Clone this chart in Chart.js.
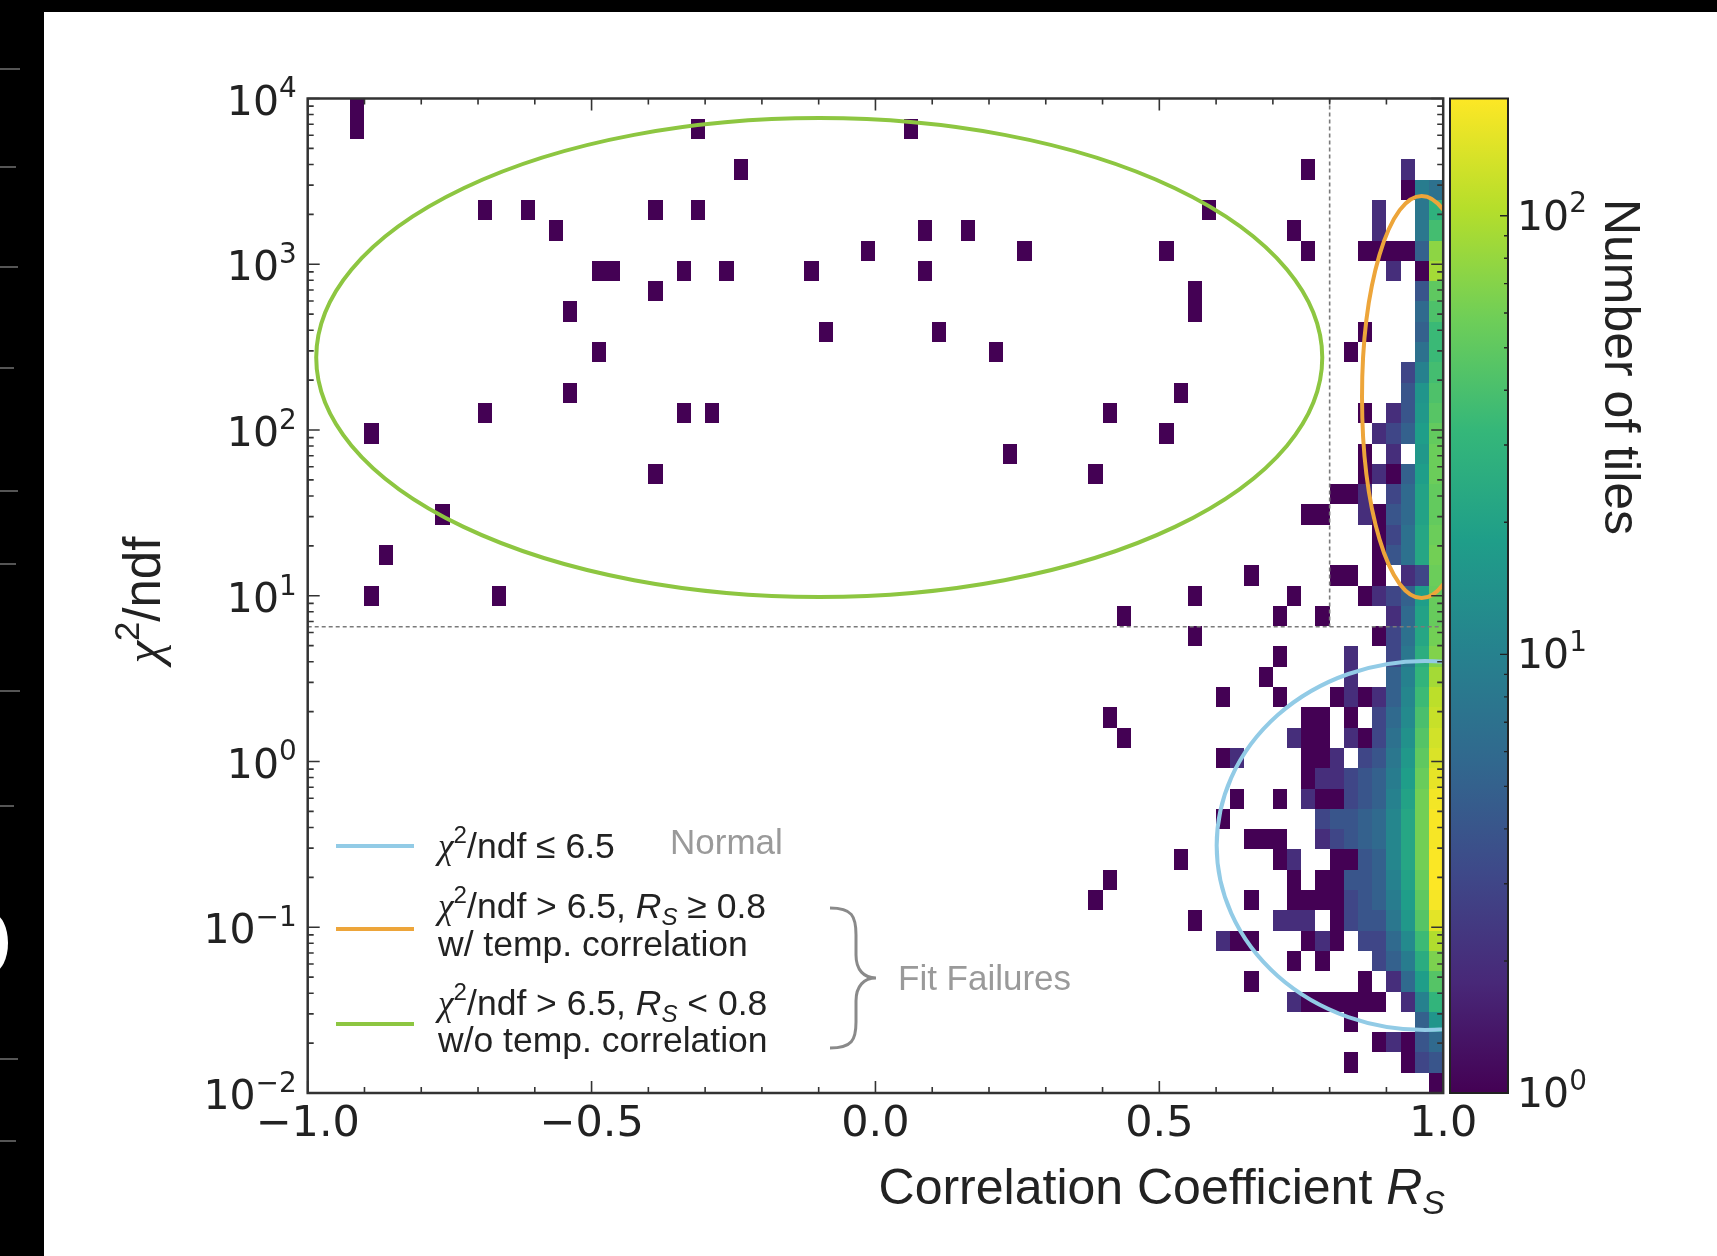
<!DOCTYPE html>
<html>
<head>
<meta charset="utf-8">
<script src="https://cdn.jsdelivr.net/npm/chart.js@4.4.0/dist/chart.umd.min.js"></script>
<style>
  html, body { margin: 0; padding: 0; background: #fff; }
  #wrap { position: relative; width: 1717px; height: 1256px; overflow: hidden; background: #fff; }
  #wrap canvas { position: absolute; left: 0; top: 0; }
  .strip { position: absolute; background: #000; }
  .dash { position: absolute; left: 0; height: 2px; background: #555; }
</style>
</head>
<body>
<div id="wrap">
  <canvas id="hist" width="1717" height="1256"></canvas>
  <div class="strip" style="left:0;top:0;width:44px;height:1256px"></div>
  <div class="strip" style="left:0;top:0;width:1717px;height:12px"></div>
  <div class="dash" style="top:68px;width:20px"></div>
  <div class="dash" style="top:166px;width:16px"></div>
  <div class="dash" style="top:266px;width:18px"></div>
  <div class="dash" style="top:367px;width:14px"></div>
  <div class="dash" style="top:490px;width:18px"></div>
  <div class="dash" style="top:563px;width:16px"></div>
  <div class="dash" style="top:690px;width:20px"></div>
  <div class="dash" style="top:805px;width:14px"></div>
  <div class="dash" style="top:1058px;width:18px"></div>
  <div class="dash" style="top:1140px;width:16px"></div>
  <div style="position:absolute;left:-22px;top:914px;width:30px;height:58px;border-radius:50%;background:#fff"></div>
</div>
<script>
// binning of the 2D histogram
const xMin = -1, xMax = 1, xBins = 80;
const yLogMin = -2, yLogMax = 4, yBins = 49;
const countMax = 185;

const xTickValues = [-1.0, -0.5, 0.0, 0.5, 1.0];
const xTickLabels = ['\u22121.0', '\u22120.5', '0.0', '0.5', '1.0'];
const yTickExponents = [-2, -1, 0, 1, 2, 3, 4];
const cbarTickExponents = [0, 1, 2];

const chi2Cut = 6.5;
const rsCut = 0.8;

// isolated tiles: [x bin (0 = -1.0), row counted from the top (0 = 1e4), count]
const sparseTiles = [
  [3,0,1],[3,1,1],[27,1,1],[42,1,1],[30,3,1],[70,3,1],
  [12,5,1],[15,5,1],[24,5,1],[27,5,1],[63,5,1],
  [17,6,1],[43,6,1],[46,6,1],[69,6,1],
  [39,7,1],[50,7,1],[60,7,1],[70,7,1],
  [20,8,1],[21,8,1],[26,8,1],[29,8,1],[35,8,1],[43,8,1],
  [24,9,1],[62,9,1],[18,10,1],[62,10,1],
  [36,11,1],[44,11,1],[20,12,1],[48,12,1],
  [18,14,1],[61,14,1],
  [12,15,1],[26,15,1],[28,15,1],[56,15,1],
  [4,16,1],[60,16,1],[49,17,1],[24,18,1],[55,18,1],
  [9,20,1],[70,20,1],[71,20,1],[5,22,1],[66,23,1],
  [4,24,1],[13,24,1],[62,24,1],[69,24,1],
  [57,25,1],[68,25,1],[71,25,1],[62,26,1],[68,27,1],[67,28,1],
  [64,29,1],[68,29,1],[56,30,1],[70,30,1],[71,30,1],
  [57,31,1],[69,31,2],[70,31,1],[71,31,1],
  [64,32,1],[65,32,2],[70,32,1],[71,32,1],
  [70,33,1],[71,33,2],
  [65,34,1],[68,34,1],[70,34,2],[71,34,1],
  [64,35,1],[71,35,3],
  [66,36,1],[67,36,1],[68,36,1],[71,36,2],
  [61,37,1],[68,37,1],[69,37,2],
  [56,38,1],[69,38,1],[71,38,1],
  [55,39,1],[66,39,1],[69,39,1],[70,39,1],[71,39,1],
  [62,40,1],[68,40,2],[69,40,2],[70,40,2],
  [64,41,2],[65,41,1],[66,41,1],[70,41,1],[71,41,2],
  [69,42,1],[71,42,1],[66,43,1],
  [69,44,2],[70,44,1],[71,44,1]
];

// dense band, x bins 72..79 (Rs 0.80 .. 1.00), rows from the top (1e4) down to 1e-2
const denseFirstBin = 72;
const denseRows = [
  [0,0,0,0,0,0,0,0],
  [0,0,0,0,0,0,0,0],
  [0,0,0,0,0,0,0,0],
  [0,0,0,0,0,2,0,0],
  [0,0,0,0,0,1,9,7],
  [0,0,0,2,0,0,8,28],
  [0,0,0,2,0,0,8,38],
  [0,0,1,1,1,1,5,75],
  [0,0,0,0,2,0,1,90],
  [0,0,0,0,0,0,4,50],
  [0,0,0,0,0,0,6,42],
  [0,0,1,0,0,0,5,34],
  [0,1,0,0,0,0,7,34],
  [0,0,0,0,0,3,10,38],
  [0,0,0,0,0,4,15,42],
  [0,0,1,0,2,4,16,46],
  [0,0,0,2,3,5,18,52],
  [0,0,1,0,2,0,16,56],
  [0,0,1,2,1,5,18,56],
  [1,1,2,0,3,6,20,52],
  [0,0,2,1,4,6,20,52],
  [0,0,0,1,3,7,22,56],
  [0,0,0,1,4,7,22,60],
  [1,1,0,1,0,2,3,56],
  [0,0,1,2,3,5,18,54],
  [0,0,0,0,2,6,20,54],
  [0,0,0,1,3,7,22,60],
  [0,2,0,0,3,8,26,68],
  [0,2,0,0,5,10,30,90],
  [1,2,1,2,5,11,35,110],
  [0,1,0,3,6,12,40,120],
  [0,2,1,3,7,14,45,130],
  [2,0,3,4,8,16,50,140],
  [2,3,4,5,9,18,55,155],
  [1,3,4,5,10,20,60,170],
  [4,4,5,6,11,22,60,178],
  [3,4,5,6,11,22,60,175],
  [1,1,4,5,11,22,60,180],
  [1,4,4,5,10,20,55,185],
  [1,3,4,5,9,18,50,175],
  [1,3,4,4,8,16,45,150],
  [1,0,3,3,6,12,35,100],
  [0,0,0,3,5,9,25,65],
  [0,0,1,0,2,6,18,45],
  [1,1,1,1,0,2,10,30],
  [0,1,0,0,0,0,5,15],
  [0,0,0,1,2,1,4,6],
  [0,1,0,0,0,1,3,4],
  [0,0,0,0,0,0,0,1]
];

// hand-drawn selections, centre/radii in (Rs, log10 chi2/ndf)
const ellipses = [
  { color: '#8dc641', cx: -0.099, cy: 2.437, rx: 0.886, ry: 1.445 },
  { color: '#eda53a', cx: 0.962, cy: 2.199, rx: 0.105, ry: 1.213 },
  { color: '#92cbe6', cx: 0.968, cy: -0.507, rx: 0.367, ry: 1.113 }
];

const viridis = ['#440154','#482878','#3e4989','#31688e','#26828e','#1f9e89','#35b779','#6ece58','#b5de2b','#fde725'];

function hexRgb(h) {
  return [parseInt(h.slice(1, 3), 16), parseInt(h.slice(3, 5), 16), parseInt(h.slice(5, 7), 16)];
}
function cmap(t) {
  t = Math.max(0, Math.min(1, t));
  const p = t * (viridis.length - 1);
  const i = Math.min(Math.floor(p), viridis.length - 2);
  const f = p - i;
  const a = hexRgb(viridis[i]), b = hexRgb(viridis[i + 1]);
  const c = a.map((v, j) => Math.round(v + (b[j] - v) * f));
  return `rgb(${c[0]},${c[1]},${c[2]})`;
}

const xStep = (xMax - xMin) / xBins;
const yStep = (yLogMax - yLogMin) / yBins;

function makeTile(i, k, n) {
  const r = yBins - 1 - k;
  const x0 = xMin + i * xStep, x1 = x0 + xStep;
  const l0 = yLogMin + r * yStep, l1 = l0 + yStep;
  return { x: (x0 + x1) / 2, y: Math.pow(10, (l0 + l1) / 2), v: n, x0, x1, y0: Math.pow(10, l0), y1: Math.pow(10, l1) };
}

const tiles = [];
sparseTiles.forEach(([i, k, n]) => tiles.push(makeTile(i, k, n)));
denseRows.forEach((row, k) => row.forEach((n, j) => {
  if (n > 0) tiles.push(makeTile(denseFirstBin + j, k, n));
}));

// text with super/subscripts: parts = [text, kind]
function rich(ctx, parts, x, y, size, align, fam) {
  const fontOf = k => {
    const s = /sup|sub/.test(k) ? size * 0.68 : size;
    const it = (k === 'i' || k === 'isub' || k === 'chi') ? 'italic ' : '';
    const f = k === 'chi' ? '"Liberation Serif"' : fam;
    return it + s + 'px ' + f;
  };
  let w = 0;
  parts.forEach(p => { ctx.font = fontOf(p[1]); w += ctx.measureText(p[0]).width; });
  let cx = align === 'center' ? x - w / 2 : align === 'right' ? x - w : x;
  ctx.textAlign = 'left';
  ctx.textBaseline = 'alphabetic';
  parts.forEach(p => {
    ctx.font = fontOf(p[1]);
    let dy = 0;
    if (p[1] === 'sup') dy = -size * 0.42;
    if (p[1] === 'sub' || p[1] === 'isub') dy = size * 0.2;
    ctx.fillText(p[0], cx, y + dy);
    cx += ctx.measureText(p[0]).width;
  });
}

function expText(e) { return e < 0 ? '\u2212' + (-e) : String(e); }

const SANS = '"Liberation Sans"';
const TICKF = '"DejaVu Sans"';

const heatPlugin = {
  id: 'heat',
  beforeDatasetsDraw(chart) {
    const { ctx, chartArea: a, scales: { x, y } } = chart;
    const lmax = Math.log10(countMax);
    ctx.save();
    ctx.beginPath();
    ctx.rect(a.left, a.top, a.right - a.left, a.bottom - a.top);
    ctx.clip();
    chart.data.datasets[0].data.forEach(p => {
      const l = Math.round(x.getPixelForValue(p.x0));
      const r = Math.round(x.getPixelForValue(p.x1));
      const t = Math.round(y.getPixelForValue(p.y1));
      const b = Math.round(y.getPixelForValue(p.y0));
      ctx.fillStyle = cmap(Math.log10(p.v) / lmax);
      ctx.fillRect(l, t, r - l, b - t);
    });
    ctx.restore();
  },
  afterDatasetsDraw(chart) {
    const { ctx, chartArea: a, scales: { x, y, cb } } = chart;
    ctx.save();

    // cut lines
    const yc = y.getPixelForValue(chi2Cut);
    const xc = x.getPixelForValue(rsCut);
    ctx.strokeStyle = '#7a7a7a';
    ctx.lineWidth = 1.6;
    ctx.setLineDash([4, 3]);
    ctx.beginPath();
    ctx.moveTo(a.left, yc); ctx.lineTo(a.right, yc);
    ctx.moveTo(xc, a.top); ctx.lineTo(xc, yc);
    ctx.stroke();
    ctx.setLineDash([]);

    // selection ellipses
    ctx.save();
    ctx.beginPath();
    ctx.rect(a.left, a.top, a.right - a.left, a.bottom - a.top);
    ctx.clip();
    ctx.lineWidth = 4;
    ellipses.forEach(e => {
      const px = x.getPixelForValue(e.cx);
      const py = y.getPixelForValue(Math.pow(10, e.cy));
      const rx = x.getPixelForValue(e.cx + e.rx) - px;
      const ry = py - y.getPixelForValue(Math.pow(10, e.cy + e.ry));
      ctx.strokeStyle = e.color;
      ctx.beginPath();
      ctx.ellipse(px, py, rx, ry, 0, 0, Math.PI * 2);
      ctx.stroke();
    });
    ctx.restore();

    // frame + inward ticks
    ctx.strokeStyle = '#333';
    ctx.lineWidth = 2.5;
    ctx.strokeRect(a.left, a.top, a.right - a.left, a.bottom - a.top);
    ctx.lineWidth = 1.6;
    ctx.beginPath();
    for (let v = -10; v <= 10; v++) {
      const px = x.getPixelForValue(v / 10);
      const len = v % 5 === 0 ? 12 : 6;
      ctx.moveTo(px, a.bottom); ctx.lineTo(px, a.bottom - len);
      ctx.moveTo(px, a.top); ctx.lineTo(px, a.top + len);
    }
    for (let e = yLogMin; e <= yLogMax; e++) {
      for (let m = 1; m <= 9; m++) {
        if (e === yLogMax && m > 1) break;
        const py = y.getPixelForValue(m * Math.pow(10, e));
        const len = m === 1 ? 12 : 6;
        ctx.moveTo(a.left, py); ctx.lineTo(a.left + len, py);
        ctx.moveTo(a.right, py); ctx.lineTo(a.right - len, py);
      }
    }
    ctx.stroke();

    // tick labels
    ctx.fillStyle = '#222';
    yTickExponents.forEach(e => {
      const py = y.getPixelForValue(Math.pow(10, e));
      rich(ctx, [['10', ''], [expText(e), 'sup']], a.left - 11, py + 16, 41, 'right', TICKF);
    });
    xTickValues.forEach((v, i) => {
      const px = x.getPixelForValue(v);
      ctx.font = '43px ' + TICKF;
      ctx.textAlign = 'center';
      ctx.textBaseline = 'alphabetic';
      ctx.fillText(xTickLabels[i], px, 1136);
    });

    // colour bar
    const cbL = 1450, cbR = 1508;
    const cTop = cb.getPixelForValue(countMax), cBot = cb.getPixelForValue(1);
    const g = ctx.createLinearGradient(0, cBot, 0, cTop);
    viridis.forEach((c, i) => g.addColorStop(i / (viridis.length - 1), c));
    ctx.fillStyle = g;
    ctx.fillRect(cbL, cTop, cbR - cbL, cBot - cTop);
    ctx.strokeStyle = '#222';
    ctx.lineWidth = 2;
    ctx.strokeRect(cbL, cTop, cbR - cbL, cBot - cTop);
    ctx.lineWidth = 1.4;
    ctx.beginPath();
    for (let e = 0; e <= 2; e++) {
      for (let m = 1; m <= 9; m++) {
        const v = m * Math.pow(10, e);
        if (v > countMax) break;
        const py = cb.getPixelForValue(v);
        const len = m === 1 ? 8 : 4;
        ctx.moveTo(cbR, py); ctx.lineTo(cbR - len, py);
      }
    }
    ctx.stroke();
    ctx.fillStyle = '#222';
    cbarTickExponents.forEach(e => {
      const py = cb.getPixelForValue(Math.pow(10, e));
      rich(ctx, [['10', ''], [expText(e), 'sup']], 1517, py + 14, 41, 'left', TICKF);
    });

    // axis titles
    rich(ctx, [['Correlation Coefficient ', ''], ['R', 'i'], ['S', 'isub']], 1445, 1204, 50, 'right', SANS);
    ctx.save();
    ctx.translate(160, 600);
    ctx.rotate(-Math.PI / 2);
    rich(ctx, [['\u03c7', 'chi'], ['2', 'sup'], ['/ndf', '']], 0, 0, 51, 'center', SANS);
    ctx.restore();
    ctx.save();
    ctx.translate(1605, 367);
    ctx.rotate(Math.PI / 2);
    rich(ctx, [['Number of tiles', '']], 0, 0, 50, 'center', SANS);
    ctx.restore();

    // legend
    const lx0 = 336, lx1 = 414;
    ctx.lineWidth = 4;
    [[ellipses[2].color, 846], [ellipses[1].color, 929], [ellipses[0].color, 1024]].forEach(([c, ly]) => {
      ctx.strokeStyle = c;
      ctx.beginPath(); ctx.moveTo(lx0, ly); ctx.lineTo(lx1, ly); ctx.stroke();
    });
    ctx.fillStyle = '#222';
    const tx = 438, fs = 35.5;
    rich(ctx, [['\u03c7', 'chi'], ['2', 'sup'], ['/ndf \u2264 6.5', '']], tx, 858, fs, 'left', SANS);
    rich(ctx, [['\u03c7', 'chi'], ['2', 'sup'], ['/ndf > 6.5, ', ''], ['R', 'i'], ['S', 'isub'], [' \u2265 0.8', '']], tx, 918, fs, 'left', SANS);
    rich(ctx, [['w/ temp. correlation', '']], tx, 956, fs, 'left', SANS);
    rich(ctx, [['\u03c7', 'chi'], ['2', 'sup'], ['/ndf > 6.5, ', ''], ['R', 'i'], ['S', 'isub'], [' < 0.8', '']], tx, 1015, fs, 'left', SANS);
    rich(ctx, [['w/o temp. correlation', '']], tx, 1052, fs, 'left', SANS);
    ctx.fillStyle = '#9a9a9a';
    rich(ctx, [['Normal', '']], 670, 854, 35, 'left', SANS);
    rich(ctx, [['Fit Failures', '']], 898, 990, 35, 'left', SANS);

    // brace
    ctx.strokeStyle = '#8a8a8a';
    ctx.lineWidth = 3;
    ctx.beginPath();
    ctx.moveTo(830, 908);
    ctx.bezierCurveTo(852, 908, 856, 916, 856, 935);
    ctx.lineTo(856, 955);
    ctx.bezierCurveTo(856, 970, 864, 978, 876, 978);
    ctx.bezierCurveTo(864, 978, 856, 986, 856, 1001);
    ctx.lineTo(856, 1022);
    ctx.bezierCurveTo(856, 1040, 852, 1048, 830, 1048);
    ctx.stroke();

    ctx.restore();
  }
};

new Chart(document.getElementById('hist'), {
  type: 'scatter',
  data: { datasets: [{ data: tiles, pointRadius: 0, pointHoverRadius: 0 }] },
  options: {
    responsive: false,
    animation: false,
    devicePixelRatio: 1,
    events: [],
    layout: { padding: { left: 307.7, right: 273.8, top: 98.5, bottom: 163 } },
    plugins: { legend: { display: false }, tooltip: { enabled: false } },
    scales: {
      x: { type: 'linear', min: xMin, max: xMax, display: false },
      y: { type: 'logarithmic', min: Math.pow(10, yLogMin), max: Math.pow(10, yLogMax), display: false },
      cb: { type: 'logarithmic', axis: 'y', position: 'right', min: 1, max: countMax, display: false }
    }
  },
  plugins: [heatPlugin]
});
</script>
</body>
</html>
